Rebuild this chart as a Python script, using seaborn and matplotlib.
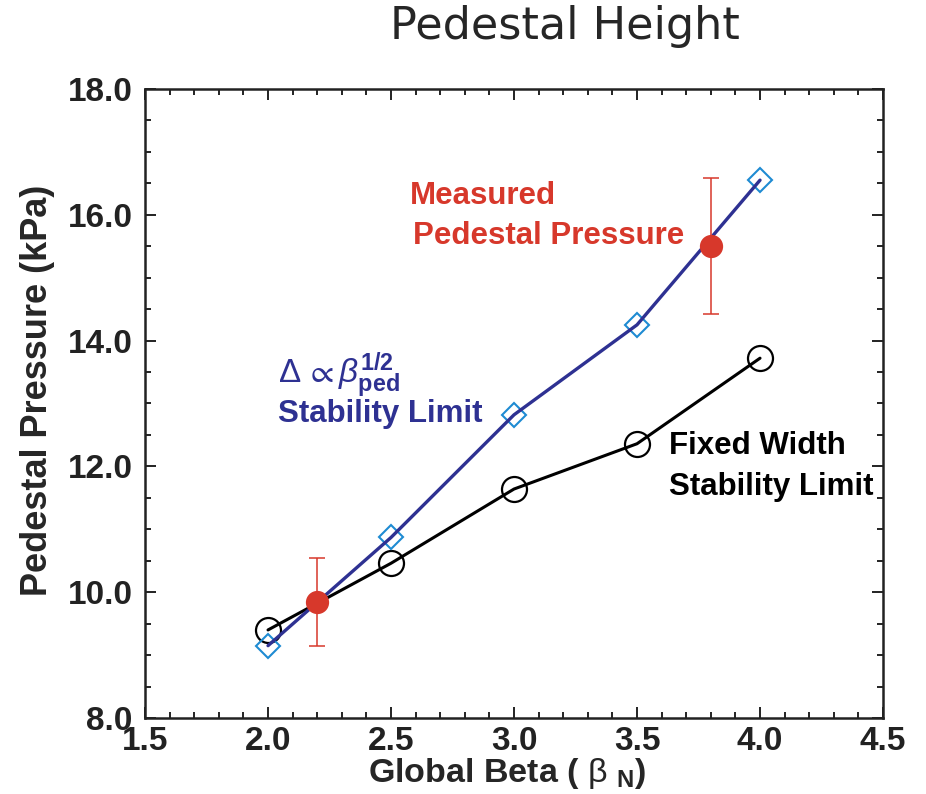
"""
Pedestal height: measured pedestal pressure vs. stability limits.
"""

import matplotlib
matplotlib.use("Agg")
import matplotlib.pyplot as plt
from matplotlib.ticker import MultipleLocator
import seaborn as sns

# data
beta_n = [2.0, 2.5, 3.0, 3.5, 4.0]
scaled_limit = [9.15, 10.87, 12.82, 14.25, 16.55]   # Delta ~ beta_ped^1/2
fixed_limit = [9.40, 10.46, 11.64, 12.36, 13.72]    # fixed width
meas_beta = [2.2, 3.8]
meas_p = [9.84, 15.50]
meas_err = [0.70, 1.08]

BLUE_LINE = "#2E3192"
BLUE_MARK = "#1E8BD2"
RED = "#D7382B"

sns.set_theme(style="ticks")
plt.rcParams["font.family"] = ["Liberation Sans", "DejaVu Sans"]
plt.rcParams["mathtext.fontset"] = "custom"
plt.rcParams["mathtext.rm"] = "Liberation Sans:bold"
plt.rcParams["mathtext.bf"] = "Liberation Sans:bold"
plt.rcParams["mathtext.it"] = "Liberation Sans:italic"
plt.rcParams["mathtext.sf"] = "Liberation Sans"
plt.rcParams["mathtext.fallback"] = "stixsans"

fig = plt.figure(figsize=(9.26, 7.94), dpi=100)
ax = fig.add_axes([0.1566, 0.0957, 0.797, 0.7923])

sns.lineplot(x=beta_n, y=fixed_limit, ax=ax, color="black", lw=2.2,
             marker="o", markersize=18, markerfacecolor="none",
             markeredgecolor="black", markeredgewidth=1.6, zorder=2)
sns.lineplot(x=beta_n, y=scaled_limit, ax=ax, color=BLUE_MARK, lw=0,
             marker="D", markersize=12.5, markerfacecolor="none",
             markeredgecolor=BLUE_MARK, markeredgewidth=1.5, zorder=2)
sns.lineplot(x=beta_n, y=scaled_limit, ax=ax, color=BLUE_LINE, lw=2.4, zorder=3)

ax.errorbar(meas_beta, meas_p, yerr=meas_err, fmt="none", ecolor=RED,
            elinewidth=1.1, capsize=6, capthick=1.1, zorder=4)
sns.scatterplot(x=meas_beta, y=meas_p, ax=ax, color=RED, s=240,
                edgecolor=RED, zorder=5)

ax.set_xlim(1.5, 4.5)
ax.set_ylim(8.0, 18.0)
ax.xaxis.set_major_locator(MultipleLocator(0.5))
ax.xaxis.set_minor_locator(MultipleLocator(0.1))
ax.yaxis.set_major_locator(MultipleLocator(2.0))
ax.yaxis.set_minor_locator(MultipleLocator(0.5))
ax.xaxis.set_major_formatter(plt.FormatStrFormatter("%.1f"))
ax.yaxis.set_major_formatter(plt.FormatStrFormatter("%.1f"))
ax.tick_params(which="both", direction="in", top=True, right=True,
               width=1.4, colors="#222222")
ax.tick_params(which="major", length=8, labelsize=24)
ax.tick_params(which="minor", length=4.5)
ax.tick_params(axis="x", which="major", pad=6)
ax.tick_params(axis="y", which="major", pad=9)
for lab in ax.get_xticklabels() + ax.get_yticklabels():
    lab.set_fontweight("bold")
for sp in ax.spines.values():
    sp.set_linewidth(1.8)
    sp.set_color("#222222")

ax.set_xlabel(r"Global Beta ( $\mathsf{\beta}$ $_{\mathrm{N}}$)", fontsize=24.5,
              fontweight="bold", va="center")
ax.xaxis.set_label_coords(0.49, -0.088)
ax.set_ylabel("Pedestal Pressure (kPa)", fontsize=26, fontweight="bold",
              va="center")
ax.yaxis.set_label_coords(-0.145, 0.521)
fig.text(0.61, 0.951, "Pedestal Height", ha="center", va="baseline",
         fontsize=32, family=["DejaVu Sans"])

ax.text(2.577, 16.3, "Measured", color=RED, fontsize=22.5, fontweight="bold",
        va="center", ha="left")
ax.text(2.59, 15.66, "Pedestal Pressure", color=RED, fontsize=22.5,
        fontweight="bold", va="center", ha="left")

ax.text(2.04, 13.45,
        r"$\mathsf{\Delta}\,\mathsf{\propto}\mathit{\beta}_{\mathrm{ped}}^{\mathrm{1/2}}$",
        color=BLUE_LINE, fontsize=24, va="center", ha="left")
ax.text(2.04, 12.83, "Stability Limit", color=BLUE_LINE, fontsize=22.5,
        fontweight="bold", va="center", ha="left")

ax.text(3.63, 12.32, "Fixed Width", color="black", fontsize=22.5,
        fontweight="bold", va="center", ha="left")
ax.text(3.63, 11.68, "Stability Limit", color="black", fontsize=22.5,
        fontweight="bold", va="center", ha="left")

fig.savefig("out.png", dpi=100)
